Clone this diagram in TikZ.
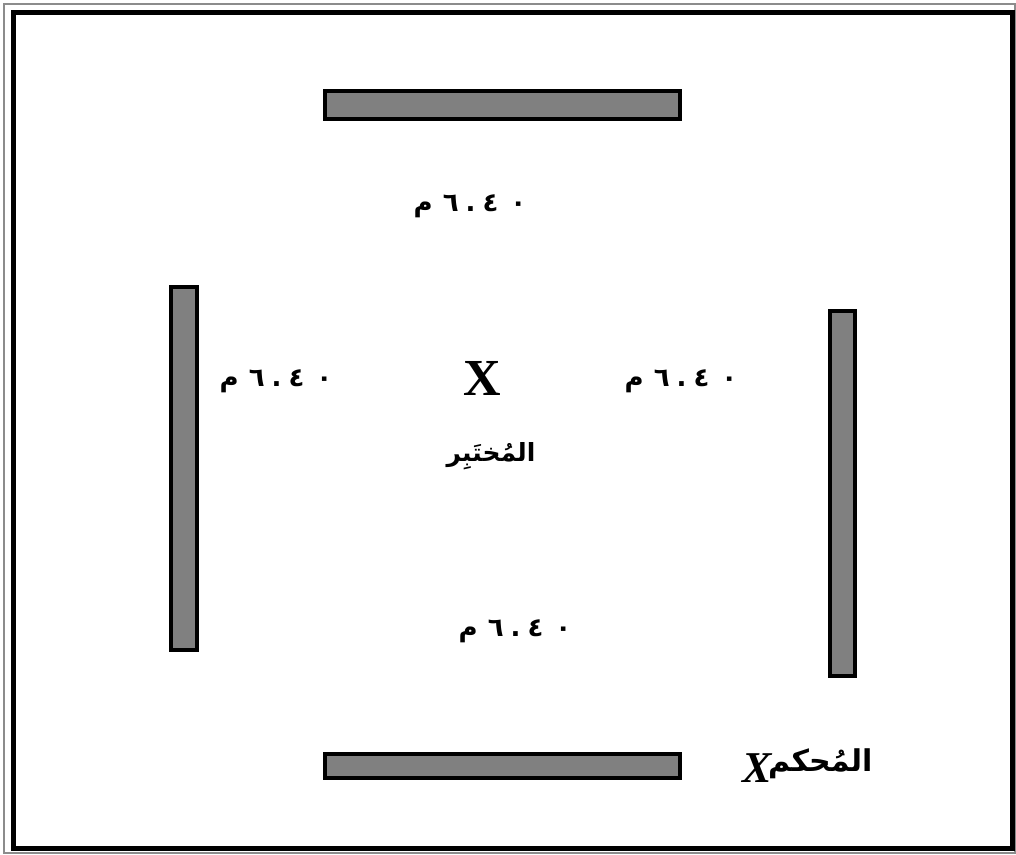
\documentclass[tikz,border=0pt]{standalone}
\usepackage{fontspec}
\TeXXeTstate=1
\newfontfamily\arabicfont[Script=Arabic]{DejaVu Sans}
\setmainfont{Liberation Serif}
\newcommand{\sixforty}{\beginR\beginL ٦\hspace{7pt}.\hspace{7pt}٤\hspace{12pt}٠\endL{}\hspace{10pt}م\endR}
\begin{document}
\begin{tikzpicture}[x=1pt,y=-1pt,
  bar/.style={draw=black,line width=4pt,fill=black!50,inner sep=0pt},
  dist/.style={font=\arabicfont\bfseries\fontsize{26}{30}\selectfont,inner sep=0pt},
  lbl/.style={font=\arabicfont\bfseries\fontsize{25}{30}\selectfont,inner sep=0pt}]
\useasboundingbox (0,0) rectangle (1016,854);
\fill[white] (0,0) rectangle (1016,854);
\draw[black!45,line width=1.5pt] (4,4) rectangle (1015,853);
\draw[black,line width=5pt] (13,12) rectangle (1012,848);
% bars
\node[bar,minimum width=355pt,minimum height=28pt] (top) at (502.5,105) {};
\node[bar,minimum width=355pt,minimum height=24pt] (bottom) at (502.5,766) {};
\node[bar,minimum width=26pt,minimum height=363pt] (left) at (184,468.5) {};
\node[bar,minimum width=25pt,minimum height=365pt] (right) at (842.5,493.5) {};
% distances
\node[dist] (dtop) at (470,206) {\sixforty};
\node[dist] (dleft) at (276,381) {\sixforty};
\node[dist] (dright) at (681,381) {\sixforty};
\node[dist] (dbottom) at (515,631) {\sixforty};
% tester
\node[font=\bfseries\fontsize{52}{56}\selectfont,inner sep=0pt] (x1) at (482,378) {X};
\node[lbl] (tester) at (491,456) {\beginR المُختَبِر\endR};
% judge
\node[font=\bfseries\itshape\fontsize{44}{48}\selectfont,inner sep=0pt,anchor=east] (x2) at (772,768) {X};
\node[lbl,font=\arabicfont\bfseries\fontsize{30}{34}\selectfont,anchor=west] (judge) at (768,764) {\beginR المُحكم\endR};
\end{tikzpicture}
\end{document}
